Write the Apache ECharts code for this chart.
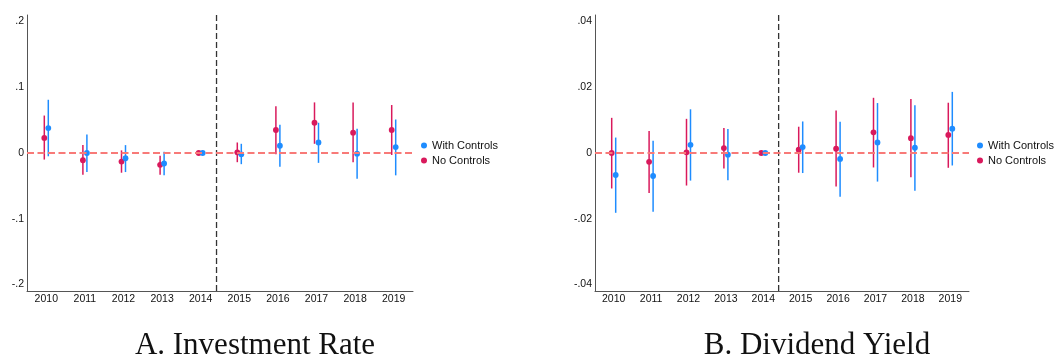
<!DOCTYPE html>
<html>
<head>
<meta charset="utf-8">
<script src="https://cdn.jsdelivr.net/npm/echarts@6/dist/echarts.min.js"></script>
<style>html,body{margin:0;padding:0;background:#fff}#c{width:1061px;height:360px}</style>
</head>
<body>
<div id="c"></div>
<script>
const years = ['2010','2011','2012','2013','2014','2015','2016','2017','2018','2019'];

// Panel A: Investment Rate
const invNoEst   = [0.023, -0.011, -0.013, -0.018, 0, 0.001, 0.035, 0.046, 0.031, 0.035];
const invNoLo    = [-0.010, -0.033, -0.030, -0.033, 0, -0.014, -0.002, 0.014, -0.014, -0.003];
const invNoHi    = [0.057, 0.012, 0.004, -0.004, 0, 0.016, 0.071, 0.077, 0.077, 0.073];
const invWithEst = [0.038, 0.000, -0.008, -0.016, 0, -0.002, 0.011, 0.016, -0.001, 0.009];
const invWithLo  = [-0.005, -0.029, -0.029, -0.034, 0, -0.017, -0.021, -0.015, -0.039, -0.034];
const invWithHi  = [0.081, 0.028, 0.012, 0.002, 0, 0.014, 0.043, 0.046, 0.037, 0.051];
const invTicks   = [-0.2, -0.1, 0, 0.1, 0.2];

// Panel B: Dividend Yield
const divNoEst   = [0.0000, -0.0027, 0.0002, 0.0015, 0, 0.0010, 0.0013, 0.0063, 0.0045, 0.0055];
const divNoLo    = [-0.0108, -0.0122, -0.0099, -0.0047, 0, -0.0060, -0.0102, -0.0044, -0.0074, -0.0045];
const divNoHi    = [0.0107, 0.0067, 0.0104, 0.0076, 0, 0.0080, 0.0129, 0.0168, 0.0164, 0.0153];
const divWithEst = [-0.0067, -0.0070, 0.0025, -0.0005, 0, 0.0018, -0.0018, 0.0032, 0.0016, 0.0074];
const divWithLo  = [-0.0182, -0.0179, -0.0084, -0.0083, 0, -0.0061, -0.0133, -0.0087, -0.0115, -0.0038];
const divWithHi  = [0.0047, 0.0037, 0.0133, 0.0073, 0, 0.0096, 0.0095, 0.0152, 0.0145, 0.0186];
const divTicks   = [-0.04, -0.02, 0, 0.02, 0.04];

const eventPos = 4.41; // treatment line position (category index)
const seriesNames = ['With Controls', 'No Controls'];
const titles = ['A. Investment Rate', 'B. Dividend Yield'];

const BLUE = '#1e8cff', RED = '#d9195c', ZERO = '#f87a78';

function rows(est, lo, hi) { return est.map((e, i) => [i, e, lo[i], hi[i]]); }
function fmt(v) {
  if (v === 0) return '0';
  let s = String(v);
  return s.replace(/^(-?)0\./, '$1.');
}
function ciRender(offset, color) {
  return function (params, api) {
    const i = api.value(0);
    const p = api.coord([i, api.value(1)]);
    const lo = api.coord([i, api.value(2)]);
    const hi = api.coord([i, api.value(3)]);
    const x = p[0] + offset;
    return { type: 'group', children: [
      { type: 'line', shape: { x1: x, y1: lo[1], x2: x, y2: hi[1] }, style: { stroke: color, lineWidth: 1.5 } },
      { type: 'circle', shape: { cx: x, cy: p[1], r: 2.9 }, style: { fill: color } }
    ]};
  };
}
function eventRender(params, api) {
  const a = api.coord([4, 0]), b = api.coord([5, 0]);
  const f = api.value(0) - 4;
  const x = a[0] + f * (b[0] - a[0]);
  const cs = params.coordSys;
  return { type: 'line', shape: { x1: x, y1: cs.y, x2: x, y2: cs.y + cs.height },
    style: { stroke: '#333', lineWidth: 1.3, lineDash: [6, 3] } };
}

const font = 'Liberation Sans';
const grids = [
  { left: 27, top: 15, width: 386, height: 276 },
  { left: 595, top: 15, width: 374, height: 276 }
];
const yRanges = [[-0.21, 0.21], [-0.042, 0.042]];
const tickSets = [invTicks, divTicks];
const panelData = [
  [rows(invNoEst, invNoLo, invNoHi), rows(invWithEst, invWithLo, invWithHi)],
  [rows(divNoEst, divNoLo, divNoHi), rows(divWithEst, divWithLo, divWithHi)]
];

const xAxis = [], yAxis = [], series = [];
for (let k = 0; k < 2; k++) {
  xAxis.push({ type: 'category', gridIndex: k, data: years, boundaryGap: true,
    axisLine: { onZero: false, lineStyle: { color: '#555', width: 1 } },
    axisTick: { show: false },
    axisLabel: { color: '#111', fontFamily: font, fontSize: 10.5, margin: 3 } });
  yAxis.push({ type: 'value', gridIndex: k, min: yRanges[k][0], max: yRanges[k][1],
    splitLine: { show: false }, axisTick: { show: false },
    axisLine: { show: true, lineStyle: { color: '#555', width: 1 } },
    axisLabel: { customValues: tickSets[k], formatter: fmt, color: '#111', fontFamily: font, fontSize: 10.5, margin: 3 } });
  series.push({ type: 'custom', xAxisIndex: k, yAxisIndex: k, data: [[eventPos]], renderItem: eventRender, silent: true, z: 1,
    markLine: { silent: true, symbol: 'none', label: { show: false },
      lineStyle: { color: ZERO, width: 2, type: [7, 3.5] }, data: [{ yAxis: 0 }] } });
  series.push({ type: 'custom', name: seriesNames[1], xAxisIndex: k, yAxisIndex: k,
    data: panelData[k][0], renderItem: ciRender(-2, RED), itemStyle: { color: RED }, z: 3 });
  series.push({ type: 'custom', name: seriesNames[0], xAxisIndex: k, yAxisIndex: k,
    data: panelData[k][1], renderItem: ciRender(2, BLUE), itemStyle: { color: BLUE }, z: 4 });
}

const legendBase = { orient: 'vertical', data: seriesNames, icon: 'circle', itemWidth: 6, itemHeight: 6, itemGap: 4, padding: 0,
  textStyle: { fontFamily: font, fontSize: 11, color: '#111' }, selectedMode: false };

const chart = echarts.init(document.getElementById('c'), null, { renderer: 'canvas' });
chart.setOption({
  backgroundColor: '#fff',
  animation: false,
  grid: grids,
  xAxis: xAxis,
  yAxis: yAxis,
  legend: [
    Object.assign({}, legendBase, { left: 421, top: 140 }),
    Object.assign({}, legendBase, { left: 977, top: 140 })
  ],
  graphic: [
    { type: 'text', x: 255, y: 346, style: { text: titles[0], font: '31px "Liberation Serif"', fill: '#111', align: 'center', verticalAlign: 'middle' } },
    { type: 'text', x: 817, y: 346, style: { text: titles[1], font: '31px "Liberation Serif"', fill: '#111', align: 'center', verticalAlign: 'middle' } }
  ],
  series: series
});
</script>
</body>
</html>
